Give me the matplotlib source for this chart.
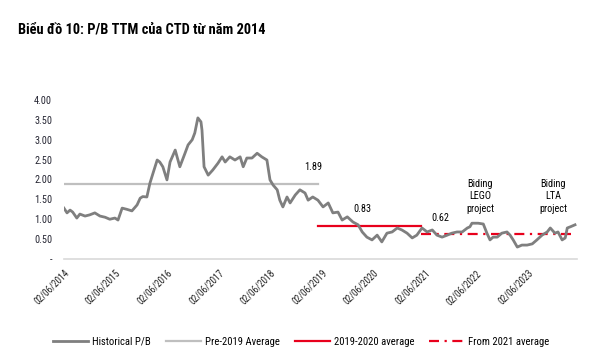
import matplotlib
matplotlib.use("Agg")
import matplotlib.pyplot as plt
from matplotlib import font_manager

# ---- data (x in years after 02/06/2014, values = P/B) ----
pb_x = [0.00, 0.06, 0.12, 0.17, 0.25, 0.31, 0.41, 0.50, 0.60, 0.70,
        0.80, 0.89, 0.99, 1.05, 1.13, 1.22, 1.32, 1.42, 1.48, 1.53,
        1.61, 1.67, 1.73, 1.81, 1.86, 1.92, 2.00, 2.06, 2.16, 2.25,
        2.35, 2.41, 2.49, 2.54, 2.60, 2.66, 2.68, 2.72, 2.80, 2.89,
        2.99, 3.07, 3.13, 3.22, 3.32, 3.42, 3.48, 3.55, 3.65, 3.75,
        3.84, 3.94, 4.00, 4.06, 4.14, 4.19, 4.25, 4.33, 4.39, 4.49,
        4.58, 4.68, 4.74, 4.83, 4.93, 5.03, 5.13, 5.22, 5.32, 5.40,
        5.50, 5.61, 5.71, 5.79, 5.88, 5.98, 6.08, 6.17, 6.27, 6.37,
        6.47, 6.56, 6.66, 6.76, 6.85, 6.95, 7.05, 7.15, 7.24, 7.34,
        7.44, 7.53, 7.63, 7.73, 7.83, 7.88, 7.92, 8.04, 8.14, 8.21,
        8.27, 8.33, 8.41, 8.50, 8.60, 8.66, 8.72, 8.80, 8.89, 8.99,
        9.09, 9.18, 9.28, 9.38, 9.44, 9.53, 9.59, 9.67, 9.73, 9.77,
        9.83, 9.92]
pb_y = [1.28, 1.16, 1.23, 1.18, 1.03, 1.13, 1.08, 1.11, 1.16, 1.08,
        1.05, 1.00, 1.03, 0.98, 1.28, 1.25, 1.21, 1.36, 1.53, 1.57,
        1.56, 1.91, 2.16, 2.49, 2.44, 2.32, 1.99, 2.44, 2.74, 2.32,
        2.66, 2.87, 3.00, 3.17, 3.55, 3.45, 3.24, 2.32, 2.11, 2.24,
        2.41, 2.57, 2.44, 2.57, 2.49, 2.57, 2.32, 2.54, 2.54, 2.66,
        2.57, 2.49, 1.99, 1.86, 1.74, 1.48, 1.31, 1.56, 1.41, 1.61,
        1.74, 1.66, 1.48, 1.56, 1.48, 1.31, 1.41, 1.16, 1.18, 0.98,
        1.06, 0.93, 0.86, 0.68, 0.55, 0.48, 0.60, 0.43, 0.65, 0.68,
        0.78, 0.73, 0.65, 0.53, 0.60, 0.78, 0.68, 0.73, 0.60, 0.55,
        0.60, 0.65, 0.68, 0.68, 0.78, 0.81, 0.90, 0.90, 0.88, 0.65,
        0.48, 0.55, 0.55, 0.65, 0.68, 0.60, 0.48, 0.30, 0.35, 0.35,
        0.38, 0.48, 0.60, 0.68, 0.78, 0.65, 0.68, 0.48, 0.53, 0.78,
        0.81, 0.86]

tick_pos = [0, 1, 2, 3, 4, 5, 6, 7, 8, 9]
tick_labels = ["02/06/2014", "02/06/2015", "02/06/2016", "02/06/2017", "02/06/2018",
               "02/06/2019", "02/06/2020", "02/06/2021", "02/06/2022", "02/06/2023"]

pre2019_avg = 1.89
pre2019_span = [0.0, 4.93]
avg_19_20 = 0.83
span_19_20 = [4.93, 6.93]
avg_2021 = 0.62
span_2021 = [6.93, 9.92]

y_ticks = [0, 0.5, 1.0, 1.5, 2.0, 2.5, 3.0, 3.5, 4.0]
y_tick_labels = ["-", "0.50", "1.00", "1.50", "2.00", "2.50", "3.00", "3.50", "4.00"]

TITLE = "Biểu đồ 10: P/B TTM của CTD từ năm 2014"

# ---- fonts: prefer a narrow sans (reference uses Arial Narrow-like text) ----
flist = font_manager.fontManager.ttflist
names = {f.name for f in flist}
pref = ["Liberation Sans Narrow", "Arial Narrow", "Roboto Condensed",
        "Noto Sans Condensed", "Open Sans Condensed", "DejaVu Sans Condensed"]
chosen = None
for p in pref:
    if p in names:
        chosen = p
        break
stretch = "normal"
if chosen is None:
    for f in flist:
        if ("Narrow" in f.name or "Condensed" in f.name) and f.weight in (400, "normal", "regular"):
            chosen = f.name
            break
if chosen is None:
    cond = [f for f in flist if f.stretch in ("condensed", "semi-condensed")]
    if cond:
        chosen = cond[0].name
        stretch = cond[0].stretch
if chosen is None:
    chosen = "Liberation Sans"
FAM = [chosen, "DejaVu Sans"]
plt.rcParams["font.family"] = FAM
plt.rcParams["font.stretch"] = stretch

fig = plt.figure(figsize=(6.03, 3.56), dpi=100)
renderer = fig.canvas.get_renderer()


def width_px(s, size, weight="normal"):
    t = fig.text(0, 0, s, fontsize=size, fontweight=weight)
    w = t.get_window_extent(renderer).width
    t.remove()
    return w


fs_leg = 7.5 * 58.0 / width_px("Historical P/B", 7.5)
fs_lab = 8.0 * 18.0 / width_px("0.83", 8.0)
fs_tick = 7.5 * 45.0 / width_px("02/06/2014", 7.5)
fs_title = 10.5 * 249.0 / width_px(TITLE, 10.5, "bold")

ax = fig.add_axes([0.106, 0.2725, 0.851, 0.4466])

GRAY = "#7f7f7f"
LGRAY = "#bfbfbf"
RED = "#e8001c"

ax.plot(pb_x, pb_y, color=GRAY, lw=2.0, label="Historical P/B", zorder=3)
ax.plot(pre2019_span, [pre2019_avg] * 2, color=LGRAY, lw=1.6, label="Pre-2019 Average", zorder=2)
ax.plot(span_19_20, [avg_19_20] * 2, color=RED, lw=1.6, label="2019-2020 average", zorder=2)
ax.plot(span_2021, [avg_2021] * 2, color=RED, lw=1.6, ls=(0, (4.5, 2.5, 1, 2.5)),
        label="From 2021 average", zorder=2)

ax.set_xlim(0, 9.96)
ax.set_ylim(0, 4.0)
ax.set_yticks(y_ticks)
ax.set_yticklabels(y_tick_labels, fontsize=fs_lab, color="#262633")
ax.set_xticks(tick_pos)
ax.set_xticklabels(tick_labels, fontsize=fs_tick, rotation=45, ha="right",
                   rotation_mode="anchor", color="#222222")
ax.tick_params(axis="both", length=0)
ax.tick_params(axis="y", pad=8.5)
ax.tick_params(axis="x", pad=6.5)
for s in ["top", "right", "left"]:
    ax.spines[s].set_visible(False)
ax.spines["bottom"].set_color("#d9d9d9")
ax.spines["bottom"].set_linewidth(1.2)

# annotations
ax.text(4.83, 2.31, "1.89", fontsize=fs_lab, ha="center", va="center")
ax.text(5.79, 1.26, "0.83", fontsize=fs_lab, ha="center", va="center")
ax.text(7.30, 1.03, "0.62", fontsize=fs_lab, ha="center", va="center")
ax.text(8.08, 1.58, "Biding\nLEGO\nproject", fontsize=fs_lab, ha="center", va="center",
        linespacing=1.3)
ax.text(9.50, 1.58, "Biding\nLTA\nproject", fontsize=fs_lab, ha="center", va="center",
        linespacing=1.3)

fig.text(0.030, 0.918, TITLE, fontsize=fs_title, fontweight="bold", ha="left", va="center")

px = fs_leg * 100 / 72.0
fig.legend(loc="center", bbox_to_anchor=(0.500, 0.040), ncol=4, frameon=False,
           fontsize=fs_leg, handlelength=35 / px, columnspacing=15 / px,
           handletextpad=4 / px)

fig.savefig("out.png", dpi=100)
